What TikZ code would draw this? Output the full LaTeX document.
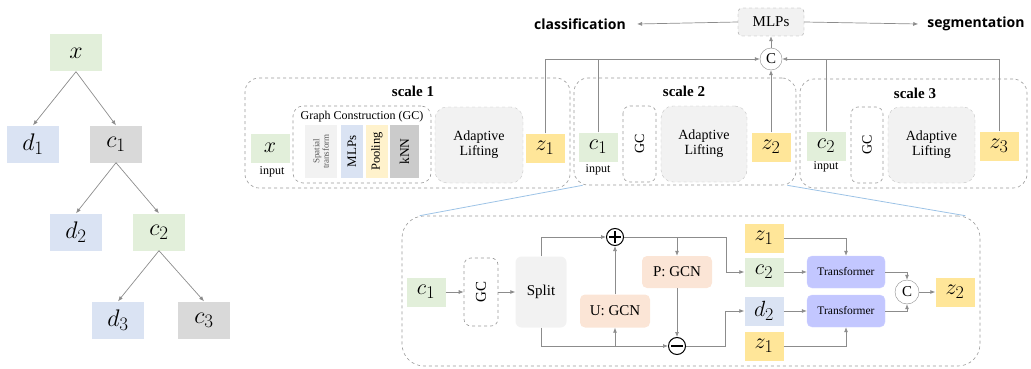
\documentclass[tikz,border=0pt]{standalone}
\usepackage{fix-cm}
\usepackage{amsmath,amssymb}
\usepackage{fontspec}
\setmainfont{Liberation Serif}
\newfontfamily\headfont{Open Sans}
\usetikzlibrary{shapes,arrows.meta,positioning,calc}
\usepackage{xcolor}
\DeclareMathSizes{22}{22}{18}{13}
\DeclareMathSizes{24}{24}{19}{14}

\definecolor{cgreen}{HTML}{E2EFDA}
\definecolor{cblue}{HTML}{DAE3F3}
\definecolor{cgrey}{HTML}{D9D9D9}
\definecolor{cyellow}{HTML}{FFE699}
\definecolor{cpale}{HTML}{F2F2F2}
\definecolor{cpeach}{HTML}{FBE5D6}
\definecolor{cviolet}{HTML}{C3C7FF}
\definecolor{cpool}{HTML}{FFF2CC}
\definecolor{cknn}{HTML}{CBCBCB}
\definecolor{cline}{HTML}{8C8C8C}
\definecolor{cdash}{HTML}{999999}
\definecolor{czoom}{HTML}{9DC3E6}

\tikzset{
  var/.style={minimum width=39pt, minimum height=29pt, font=\fontsize{22}{22}\selectfont},
  leaf/.style={minimum width=52pt, minimum height=37pt, font=\fontsize{24}{24}\selectfont},
  arr/.style={draw=cline, line width=0.7pt, -{Latex[length=5pt,width=4pt]}},
  link/.style={draw=cline, line width=0.7pt},
  scalebox/.style={draw=cdash, dashed, rounded corners=14pt, line width=0.6pt},
  gcbox/.style={draw=cdash, dashed, rounded corners=7pt, line width=0.6pt, rotate=90, font=\fontsize{14}{14}\selectfont},
  liftbox/.style={fill=cpale, draw=cdash!60, dashed, rounded corners=12pt, align=center, font=\fontsize{14}{15}\selectfont},
  gcpart/.style={rotate=90, minimum width=53pt, minimum height=22pt, font=\fontsize{13}{13}\selectfont},
  opcirc/.style={circle, draw=cline, fill=white, minimum size=22pt, font=\fontsize{15}{15}\selectfont},
  signcirc/.style={circle, draw=black, line width=1pt, fill=white, minimum size=17pt},
  gcn/.style={fill=cpeach, rounded corners=5pt, minimum width=70pt, minimum height=32pt, font=\fontsize{15}{15}\selectfont},
  trans/.style={fill=cviolet, draw=cviolet!80!white, rounded corners=5pt, minimum width=78pt, minimum height=32pt, font=\fontsize{11.5}{12}\selectfont},
  hint/.style={font=\fontsize{12}{12}\selectfont},
  taskname/.style={font=\headfont\bfseries\fontsize{14}{14}\selectfont},
  scalename/.style={font=\bfseries\fontsize{15}{15}\selectfont},
}

\begin{document}
\begin{tikzpicture}[x=1pt, y=-1pt, every node/.style={inner sep=0pt}]
\useasboundingbox (0,0) rectangle (1031,369);

% decomposition tree
\node[leaf, fill=cgreen] (tx) at (76,53) {$x$};
\node[leaf, fill=cblue] (td1) at (33,144) {$d_1$};
\node[leaf, fill=cgrey] (tc1) at (116,144) {$c_1$};
\node[leaf, fill=cblue] (td2) at (76,232) {$d_2$};
\node[leaf, fill=cgreen] (tc2) at (159,232) {$c_2$};
\node[leaf, fill=cblue] (td3) at (118,320) {$d_3$};
\node[leaf, fill=cgrey] (tc3) at (204,320) {$c_3$};
\draw[arr] (tx.south) -- (td1.north);
\draw[arr] (tx.south) -- (tc1.north);
\draw[arr] (tc1.south) -- (td2.north);
\draw[arr] (tc1.south) -- (tc2.north);
\draw[arr] (tc2.south) -- (td3.north);
\draw[arr] (tc2.south) -- (tc3.north);

% heads
\node[draw=cdash, dashed, fill=cpale, rounded corners=4pt, minimum width=66pt, minimum height=28pt, font=\fontsize{15}{15}\selectfont] (mlp) at (771,22) {MLPs};
\node[taskname] (cls) at (580,24) {classification};
\node[taskname] (seg) at (976,24) {segmentation};
\node[opcirc] (cc) at (771,59) {C};
\draw[arr] (mlp.west) -- ([xshift=11pt]cls.east);
\draw[arr] (mlp.east) -- ([xshift=-9pt]seg.west);
\draw[arr] (cc.north) -- (mlp.south);

% scale 1
\node[scalebox, minimum width=325pt, minimum height=110pt] (s1) at (407.5,133) {};
\node[scalename] at (413,91) {scale 1};
\node[var, fill=cgreen] (x1) at (270,148) {$x$};
\node[hint] at (272,172) {input};
\node[draw=cdash, dashed, rounded corners=10pt, line width=0.6pt, minimum width=138pt, minimum height=77pt] (gc1) at (362,144.5) {};
\node[hint] at (362,117) {Graph Construction (GC)};
\node[gcpart, fill=cpale, minimum height=32pt, align=center, text=black!65, font=\fontsize{9}{9.5}\selectfont] (st) at (321,151.5) {Spatial\\transform};
\node[gcpart, fill=cblue] (mp) at (352,151.5) {MLPs};
\node[gcpart, fill=cpool, font=\fontsize{12.5}{12.5}\selectfont] (pl) at (377,151.5) {Pooling};
\node[gcpart, fill=cknn, minimum height=29pt, font=\fontsize{13.5}{13.5}\selectfont] (kn) at (404.5,151.5) {kNN};
\node[liftbox, minimum width=88pt, minimum height=76pt] (al1) at (479,145) {Adaptive\\Lifting};
\node[var, fill=cyellow] (z1) at (545,148) {$z_1$};

% scale 2
\node[scalebox, minimum width=222pt, minimum height=107pt] (s2) at (685,131.5) {};
\node[scalename] at (684,91) {scale 2};
\node[var, fill=cgreen] (c1) at (598,147) {$c_1$};
\node[hint] at (598,170) {input};
\node[gcbox, minimum width=76pt, minimum height=33pt] (gc2) at (639.5,144) {GC};
\node[liftbox, minimum width=86pt, minimum height=76pt] (al2) at (704,144) {Adaptive\\Lifting};
\node[var, fill=cyellow] (z2) at (771,147) {$z_2$};

% scale 3
\node[scalebox, minimum width=227pt, minimum height=109pt] (s3) at (913.5,133.5) {};
\node[scalename] at (915,93) {scale 3};
\node[var, fill=cgreen] (c2) at (826,146) {$c_2$};
\node[hint] at (826,167) {input};
\node[gcbox, minimum width=76pt, minimum height=32pt] (gc3) at (867,145) {GC};
\node[liftbox, minimum width=87pt, minimum height=76pt] (al3) at (931.5,145) {Adaptive\\Lifting};
\node[var, fill=cyellow] (z3) at (999,146) {$z_3$};

% features into the concat
\draw[arr] (z1.north) |- (cc.west);
\draw[link] (c1.north) -- (c1.north |- cc.west);
\draw[arr] (z2.north) -- (cc.south);
\draw[arr] (z3.north) |- (cc.east);
\draw[link] (c2.north) -- (c2.north |- cc.east);

% zoomed view of scale 2
\node[scalebox, rounded corners=22pt, minimum width=578pt, minimum height=150pt] (det) at (691,291) {};
\draw[czoom, line width=0.8pt] ([xshift=9pt]s2.south west) -- ([xshift=18pt]det.north west);
\draw[czoom, line width=0.8pt] ([xshift=-9pt]s2.south east) -- ([xshift=-15pt]det.north east);

\node[var, fill=cgreen] (dc1) at (426,292) {$c_1$};
\node[gcbox, minimum width=68pt, minimum height=34pt, font=\fontsize{15}{15}\selectfont] (dgc) at (481,292) {GC};
\node[fill=cpale, rounded corners=6pt, minimum width=51pt, minimum height=71pt, font=\fontsize{15}{15}\selectfont] (split) at (541,292) {Split};
\node[signcirc] (plus) at (615,237) {};
\node[signcirc] (minus) at (677,346) {};
\draw[line width=1.6pt] ([xshift=-6pt]plus.center) -- ([xshift=6pt]plus.center);
\draw[line width=1.6pt] ([yshift=-6pt]plus.center) -- ([yshift=6pt]plus.center);
\draw[line width=1.6pt] ([xshift=-6pt]minus.center) -- ([xshift=6pt]minus.center);
\node[gcn] (pgcn) at (677,272) {P: GCN};
\node[gcn, minimum height=33pt] (ugcn) at (615,311) {U: GCN};

\node[var, fill=cyellow] (za) at (764,238) {$z_1$};
\node[var, fill=cgreen] (dc2) at (764,272) {$c_2$};
\node[var, fill=cblue] (dd2) at (764,311) {$d_2$};
\node[var, fill=cyellow] (zb) at (764,346) {$z_1$};
\node[trans] (tra) at (846,272) {Transformer};
\node[trans] (trb) at (846,311) {Transformer};
\node[opcirc, minimum size=24pt] (dcc) at (907,292) {C};
\node[var, fill=cyellow] (dz2) at (955,292) {$z_2$};

% lifting steps
\draw[arr] (dc1) -- (dgc);
\draw[arr] (dgc) -- (split);
\draw[arr] (split.north) |- (plus.west);
\draw[arr] (split.south) |- (minus.west);
\draw[arr] (ugcn.south |- minus.west) -- (ugcn.south);
\draw[arr] (ugcn.north) -- (plus.south);
\draw[arr] (plus.east -| pgcn.north) -- (pgcn.north);
\draw[arr] (pgcn.south) -- (minus.north);
\draw[arr] (plus.east) -| ([xshift=-18pt]dc2.west) -- (dc2.west);
\draw[arr] (minus.east) -| ([xshift=-19pt]dd2.west) -- (dd2.west);

% transformers and concat
\draw[arr] (za.east) -| (tra.north);
\draw[arr] (zb.east) -| (trb.south);
\draw[arr] (dc2) -- (tra);
\draw[arr] (dd2) -- (trb);
\draw[arr] (tra.east) -| (dcc.north);
\draw[arr] (trb.east) -| (dcc.south);
\draw[arr] (dcc) -- (dz2);
\end{tikzpicture}
\end{document}
